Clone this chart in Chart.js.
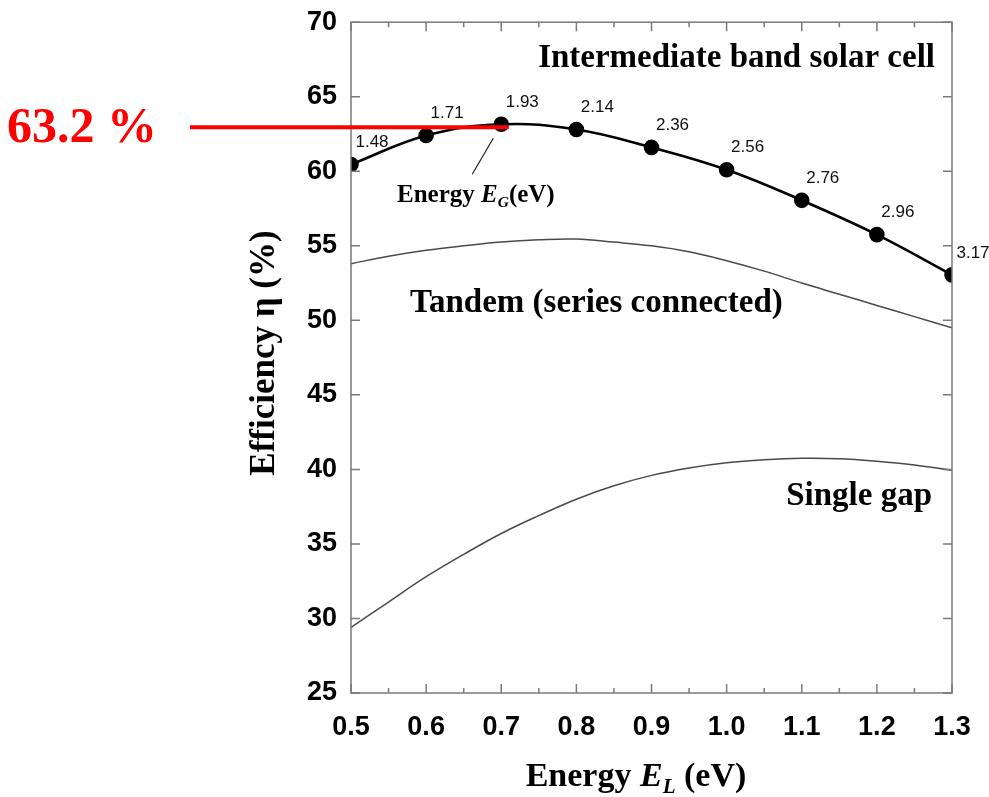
<!DOCTYPE html>
<html>
<head>
<meta charset="utf-8">
<script src="https://cdn.jsdelivr.net/npm/chart.js@4.4.1/dist/chart.umd.min.js"></script>
<style>
  html, body { margin: 0; padding: 0; background: #fff; }
  #wrap { width: 989px; height: 797px; }
</style>
</head>
<body>
<div id="wrap"><canvas id="chart" width="989" height="797"></canvas></div>
<script>
// Intermediate band solar cell (points with E_G labels)
const ibEnergy = [0.5, 0.6, 0.7, 0.8, 0.9, 1.0, 1.1, 1.2, 1.3];
const ibEfficiency = [60.45, 62.4, 63.15, 62.8, 61.6, 60.1, 58.05, 55.75, 53.05];
const gapLabels = ["1.48", "1.71", "1.93", "2.14", "2.36", "2.56", "2.76", "2.96", "3.17"];

// Tandem and single gap curves
const curveEnergy = [0.5, 0.55, 0.6, 0.65, 0.7, 0.75, 0.8, 0.85, 0.9, 0.95, 1.0, 1.05, 1.1, 1.15, 1.2, 1.25, 1.3];
const tandemEfficiency = [53.8, 54.3, 54.7, 55.0, 55.25, 55.4, 55.45, 55.25, 55.0, 54.6, 54.0, 53.3, 52.5, 51.75, 51.0, 50.25, 49.5];
const singleGapEfficiency = [29.4, 31.1, 32.8, 34.3, 35.7, 36.9, 38.0, 38.9, 39.6, 40.1, 40.45, 40.65, 40.75, 40.72, 40.55, 40.3, 39.95];

// Axis ranges
const xMin = 0.5, xMax = 1.3, xStep = 0.1;
const yMin = 25, yMax = 70, yStep = 5;

// Max efficiency marker
const maxLabel = "63.2 %";
const maxValue = 62.95;
const maxEnergy = 0.71;

function toPoints(xs, ys) {
  return xs.map((x, i) => ({ x: x, y: ys[i] }));
}

// texte avec partie italique et indice : parts = [[texte, style, indice]]
function drawRich(ctx, parts, x, y, size, align) {
  let total = 0;
  const widths = parts.map((p) => {
    const s = p[2] ? size * 0.62 : size;
    ctx.font = p[1] + " " + s + "px 'Liberation Serif', 'Times New Roman', serif";
    const w = ctx.measureText(p[0]).width;
    total += w;
    return w;
  });
  let cx = align === "center" ? x - total / 2 : x;
  parts.forEach((p, i) => {
    const s = p[2] ? size * 0.62 : size;
    ctx.font = p[1] + " " + s + "px 'Liberation Serif', 'Times New Roman', serif";
    ctx.fillText(p[0], cx, p[2] ? y + size * 0.2 : y);
    cx += widths[i];
  });
}

const framePlugin = {
  id: "frame",
  afterDatasetsDraw(chart) {
    const ctx = chart.ctx;
    const a = chart.chartArea;
    const xs = chart.scales.x;
    const ys = chart.scales.y;
    ctx.save();

    // cadre
    ctx.strokeStyle = "#7a7a7a";
    ctx.lineWidth = 1.5;
    ctx.strokeRect(a.left, a.top, a.right - a.left, a.bottom - a.top);

    // graduations vers l'intérieur
    ctx.beginPath();
    for (let v = xMin; v <= xMax + 1e-9; v += xStep / 2) {
      const major = Math.abs(Math.round(v / xStep) * xStep - v) < 1e-6;
      const len = major ? 9 : 5;
      const px = xs.getPixelForValue(v);
      ctx.moveTo(px, a.bottom); ctx.lineTo(px, a.bottom - len);
      ctx.moveTo(px, a.top); ctx.lineTo(px, a.top + len);
    }
    for (let v = yMin; v <= yMax; v += yStep) {
      const py = ys.getPixelForValue(v);
      ctx.moveTo(a.left, py); ctx.lineTo(a.left + 9, py);
      ctx.moveTo(a.right, py); ctx.lineTo(a.right - 9, py);
    }
    ctx.stroke();

    // étiquettes E_G à côté des points
    const meta = chart.getDatasetMeta(0);
    ctx.fillStyle = "#111";
    ctx.font = "17px 'Liberation Sans', Arial, sans-serif";
    ctx.textAlign = "center";
    ctx.textBaseline = "middle";
    meta.data.forEach((pt, i) => {
      ctx.fillText(gapLabels[i], pt.x + 21, pt.y - 22);
    });

    // flèche vers la courbe
    const p3 = meta.data[2];
    ctx.strokeStyle = "#222";
    ctx.lineWidth = 1.2;
    ctx.beginPath();
    ctx.moveTo(p3.x - 8, p3.y + 14);
    ctx.lineTo(p3.x - 29, p3.y + 50);
    ctx.stroke();

    // noms des courbes
    ctx.fillStyle = "#000";
    ctx.textBaseline = "alphabetic";
    ctx.font = "bold 33px 'Liberation Serif', 'Times New Roman', serif";
    ctx.textAlign = "right";
    ctx.fillText("Intermediate band solar cell", 935, 67);
    ctx.textAlign = "left";
    ctx.fillText("Tandem (series connected)", 410, 312);
    ctx.textAlign = "right";
    ctx.fillText("Single gap", 932, 505);
    ctx.textAlign = "left";
    drawRich(ctx, [["Energy ", "bold"], ["E", "italic bold"], ["G", "italic bold", true], ["(eV)", "bold"]], 397, 202, 25, "left");

    // titres des axes
    drawRich(ctx, [["Energy ", "bold"], ["E", "italic bold"], ["L", "italic bold", true], [" (eV)", "bold"]], 636, 786, 34, "center");
    ctx.save();
    ctx.translate(274, 353);
    ctx.rotate(-Math.PI / 2);
    ctx.textAlign = "center";
    ctx.font = "bold 35px 'Liberation Serif', 'Times New Roman', serif";
    ctx.fillText("Efficiency \u03b7 (%)", 0, 0);
    ctx.restore();

    // repère rouge du maximum
    const ry = ys.getPixelForValue(maxValue);
    ctx.strokeStyle = "#ff0000";
    ctx.lineWidth = 4;
    ctx.beginPath();
    ctx.moveTo(190, ry);
    ctx.lineTo(xs.getPixelForValue(maxEnergy), ry);
    ctx.stroke();
    ctx.fillStyle = "#ff0000";
    ctx.textAlign = "left";
    ctx.font = "bold 50px 'Liberation Serif', 'Times New Roman', serif";
    ctx.fillText(maxLabel, 7, ry + 15);

    ctx.restore();
  },
};

const tickFont = { family: "'Liberation Sans', Arial, sans-serif", size: 27, weight: "bold" };

new Chart(document.getElementById("chart"), {
  type: "line",
  data: {
    datasets: [
      {
        label: "Intermediate band solar cell",
        data: toPoints(ibEnergy, ibEfficiency),
        borderColor: "#000",
        backgroundColor: "#000",
        borderWidth: 2.6,
        pointRadius: 6.5,
        pointHoverRadius: 6.5,
        tension: 0.4,
      },
      {
        label: "Tandem (series connected)",
        data: toPoints(curveEnergy, tandemEfficiency),
        borderColor: "#4a4a4a",
        borderWidth: 1.5,
        pointRadius: 0,
        tension: 0.4,
      },
      {
        label: "Single gap",
        data: toPoints(curveEnergy, singleGapEfficiency),
        borderColor: "#4a4a4a",
        borderWidth: 1.5,
        pointRadius: 0,
        tension: 0.4,
      },
    ],
  },
  options: {
    responsive: false,
    animation: false,
    layout: { padding: { top: 21, right: 37, bottom: 0, left: 0 } },
    plugins: { legend: { display: false }, tooltip: { enabled: false } },
    scales: {
      x: {
        type: "linear",
        min: xMin,
        max: xMax,
        ticks: {
          stepSize: xStep,
          color: "#000",
          font: tickFont,
          padding: 10,
          maxRotation: 0,
          callback: (v) => Number(v).toFixed(1),
        },
        grid: { display: false },
        border: { display: false },
        afterFit: (s) => { s.height = 104; },
      },
      y: {
        type: "linear",
        min: yMin,
        max: yMax,
        ticks: {
          stepSize: yStep,
          color: "#000",
          font: tickFont,
          padding: 6,
        },
        grid: { display: false },
        border: { display: false },
        afterFit: (s) => { s.width = 351; },
      },
    },
  },
  plugins: [framePlugin],
});
</script>
</body>
</html>
